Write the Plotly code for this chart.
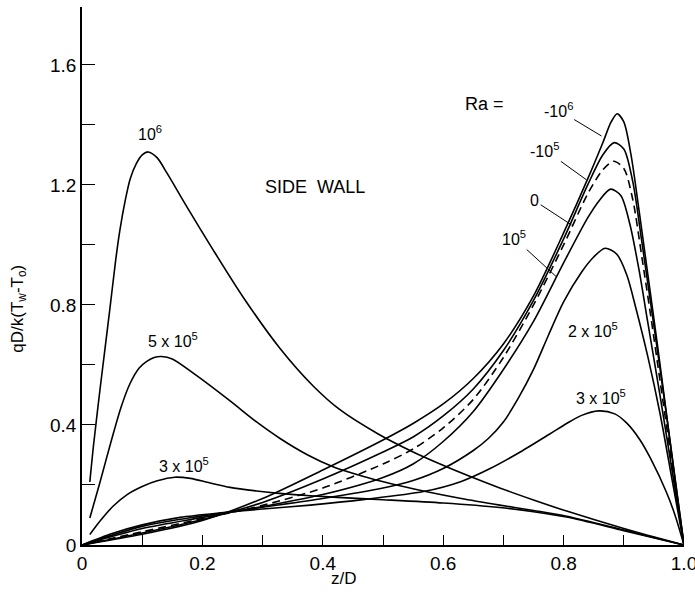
import plotly.graph_objects as go

# ---- data (z/D, qD/k(Tw-To)) ----
z_ra1e6 = [0.013, 0.019, 0.03, 0.0465, 0.056, 0.063, 0.072, 0.08, 0.09, 0.1, 0.11, 0.125, 0.141, 0.174, 0.218,
           0.268, 0.329, 0.384, 0.429, 0.492, 0.55, 0.589, 0.645, 0.694, 0.75, 0.805, 0.9, 1.0]
q_ra1e6 = [0.21, 0.33, 0.52, 0.79, 0.95, 1.05, 1.15, 1.22, 1.27, 1.30, 1.31, 1.29, 1.24, 1.128, 0.983,
           0.825, 0.655, 0.53, 0.45, 0.37, 0.31, 0.275, 0.228, 0.19, 0.15, 0.113, 0.055, 0.0]

z_ra5e5 = [0.013, 0.03, 0.049, 0.065, 0.08, 0.095, 0.107, 0.12, 0.132, 0.15, 0.19, 0.246, 0.29, 0.329, 0.375,
           0.418, 0.465, 0.512, 0.567, 0.63, 0.694, 0.75, 0.805, 0.9, 1.0]
q_ra5e5 = [0.09, 0.21, 0.35, 0.46, 0.539, 0.59, 0.611, 0.625, 0.628, 0.62, 0.565, 0.48, 0.41, 0.355, 0.30,
           0.26, 0.23, 0.205, 0.18, 0.155, 0.133, 0.115, 0.096, 0.05, 0.0]

z_ra3e5a = [0.013, 0.03, 0.052, 0.075, 0.1, 0.125, 0.154, 0.18, 0.21, 0.246, 0.29, 0.323, 0.379, 0.44, 0.5, 0.6,
            0.694, 0.75, 0.805, 0.9, 1.0]
q_ra3e5a = [0.035, 0.08, 0.13, 0.168, 0.195, 0.214, 0.226, 0.222, 0.208, 0.192, 0.18, 0.173, 0.164, 0.157, 0.151,
            0.14, 0.125, 0.111, 0.093, 0.048, 0.0]

z_ra3e5b = [0.0, 0.05, 0.1, 0.163, 0.235, 0.3, 0.379, 0.47, 0.567, 0.63, 0.678, 0.728, 0.777, 0.805, 0.83, 0.858,
            0.885, 0.905, 0.927, 0.944, 0.971, 0.985, 1.0]
q_ra3e5b = [0.0, 0.038, 0.067, 0.092, 0.108, 0.12, 0.133, 0.152, 0.178, 0.212, 0.255, 0.31, 0.37, 0.405, 0.432,
            0.447, 0.437, 0.406, 0.35, 0.29, 0.175, 0.1, 0.0]

z_ra2e5 = [0.0, 0.1, 0.2, 0.3, 0.4, 0.5, 0.55, 0.6, 0.65, 0.675, 0.7, 0.725, 0.75, 0.775, 0.8, 0.83, 0.85, 0.869,
           0.888, 0.905, 0.92, 0.94, 0.96, 0.98, 1.0]
q_ra2e5 = [0.0, 0.062, 0.097, 0.126, 0.155, 0.19, 0.215, 0.255, 0.315, 0.355, 0.41, 0.49, 0.585, 0.70, 0.81, 0.91,
           0.96, 0.989, 0.97, 0.9, 0.79, 0.627, 0.44, 0.22, 0.0]

z_ra1e5 = [0.0, 0.1, 0.2, 0.3, 0.4, 0.5, 0.55, 0.6, 0.65, 0.7, 0.75, 0.8, 0.84, 0.86, 0.878, 0.895, 0.91, 0.925,
           0.94, 0.96, 0.98, 1.0]
q_ra1e5 = [0.0, 0.055, 0.092, 0.128, 0.168, 0.225, 0.27, 0.345, 0.445, 0.585, 0.745, 0.94, 1.09, 1.15, 1.186,
           1.165, 1.07, 0.92, 0.74, 0.5, 0.25, 0.0]

z_ra0 = [0.0, 0.1, 0.2, 0.3, 0.4, 0.5, 0.55, 0.6, 0.65, 0.7, 0.75, 0.8, 0.84, 0.865, 0.883, 0.9, 0.915, 0.93,
         0.945, 0.96, 0.98, 1.0]
q_ra0 = [0.0, 0.044, 0.088, 0.132, 0.19, 0.27, 0.32, 0.39, 0.485, 0.625, 0.8, 1.0, 1.17, 1.25, 1.279, 1.255,
         1.15, 0.96, 0.76, 0.55, 0.27, 0.0]

z_ram1e5 = [0.0, 0.1, 0.2, 0.3, 0.4, 0.5, 0.55, 0.6, 0.65, 0.7, 0.75, 0.8, 0.84, 0.865, 0.884, 0.9, 0.915, 0.93,
            0.945, 0.96, 0.98, 1.0]
q_ram1e5 = [0.0, 0.04, 0.085, 0.142, 0.22, 0.31, 0.36, 0.43, 0.52, 0.648, 0.815, 1.02, 1.2, 1.3, 1.341, 1.32,
            1.21, 1.01, 0.8, 0.59, 0.3, 0.0]

z_ram1e6 = [0.0, 0.1, 0.2, 0.3, 0.4, 0.5, 0.55, 0.6, 0.65, 0.7, 0.75, 0.8, 0.84, 0.865, 0.879, 0.889, 0.9, 0.912,
            0.925, 0.94, 0.955, 0.97, 0.985, 1.0]
q_ram1e6 = [0.0, 0.036, 0.082, 0.155, 0.25, 0.35, 0.405, 0.47, 0.555, 0.67, 0.83, 1.04, 1.22, 1.34, 1.41, 1.437,
            1.41, 1.3, 1.12, 0.9, 0.68, 0.45, 0.22, 0.0]

x_tickvals = [0, 0.2, 0.4, 0.6, 0.8, 1.0]
x_ticktext = ["0", "0.2", "0.4", "0.6", "0.8", "1.0"]
y_tickvals = [0, 0.4, 0.8, 1.2, 1.6]
y_ticktext = ["0", "0.4", "0.8", "1.2", "1.6"]

series = [
    ("10^6", z_ra1e6, q_ra1e6, "solid"),
    ("5x10^5", z_ra5e5, q_ra5e5, "solid"),
    ("3x10^5 (a)", z_ra3e5a, q_ra3e5a, "solid"),
    ("3x10^5 (b)", z_ra3e5b, q_ra3e5b, "solid"),
    ("2x10^5", z_ra2e5, q_ra2e5, "solid"),
    ("10^5", z_ra1e5, q_ra1e5, "solid"),
    ("0", z_ra0, q_ra0, "8px,5px"),
    ("-10^5", z_ram1e5, q_ram1e5, "solid"),
    ("-10^6", z_ram1e6, q_ram1e6, "solid"),
]

FONT = "Liberation Sans, Arial, sans-serif"

fig = go.Figure()
for name, zs, qs, dash in series:
    fig.add_trace(go.Scatter(
        x=zs, y=qs, mode="lines", name=name,
        line=dict(color="black", width=1.6, dash=dash, shape="spline", smoothing=0.8),
        hoverinfo="skip", showlegend=False,
    ))

# plain labels: (z, q, text, size)
plain = [
    (0.113, 1.373, "10<sup>6</sup>", 16),
    (0.151, 0.683, "5 x 10<sup>5</sup>", 16),
    (0.169, 0.267, "3 x 10<sup>5</sup>", 16),
    (0.387, 1.193, "SIDE&nbsp;&nbsp;WALL", 18),
    (0.668, 1.47, "Ra =", 18),
    (0.849, 0.717, "2 x 10<sup>5</sup>", 16),
    (0.862, 0.493, "3 x 10<sup>5</sup>", 16),
]
for x, y, t, s in plain:
    fig.add_annotation(x=x, y=y, xref="x", yref="y", text=t, showarrow=False,
                       font=dict(family=FONT, size=s, color="black"))

# labels with leader lines: (target z, target q, text z, text q, text)
leaders = [
    (0.863, 1.363, 0.791, 1.45, "-10<sup>6</sup>"),
    (0.838, 1.217, 0.769, 1.317, "-10<sup>5</sup>"),
    (0.813, 1.067, 0.752, 1.147, "0"),
    (0.788, 0.894, 0.718, 1.023, "10<sup>5</sup>"),
]
for x, y, ax, ay, t in leaders:
    fig.add_annotation(x=x, y=y, xref="x", yref="y", ax=ax, ay=ay, axref="x", ayref="y",
                       text=t, showarrow=True, arrowhead=0, arrowwidth=1, arrowcolor="black",
                       font=dict(family=FONT, size=16, color="black"))

# axis titles (placed as in the reference, off-centre)
fig.add_annotation(x=0.435, y=-0.062, xref="x", yref="paper", text="z/D", showarrow=False,
                   font=dict(family=FONT, size=17, color="black"), yanchor="middle")
fig.add_annotation(x=-0.105, y=0.787, xref="paper", yref="y", text="qD/k(T<sub>w</sub>-T<sub>o</sub>)",
                   textangle=-90, showarrow=False, font=dict(family=FONT, size=17, color="black"),
                   xanchor="center", yanchor="middle")

fig.update_layout(
    width=695, height=594,
    margin=dict(l=82, r=11, t=7, b=49, autoexpand=False),
    paper_bgcolor="white", plot_bgcolor="white",
    font=dict(family=FONT, color="black"),
)
fig.update_xaxes(
    range=[0, 1.0], showgrid=False, zeroline=False, automargin=False,
    showline=True, linecolor="black", linewidth=1.5,
    tickvals=x_tickvals, ticktext=x_ticktext, ticks="inside", ticklen=10, tickwidth=1.2,
    tickcolor="black", tickfont=dict(family=FONT, size=19), ticklabeloverflow="allow",
    minor=dict(dtick=0.1, ticks="inside", ticklen=10, tickwidth=1.2, tickcolor="black", showgrid=False),
)
fig.update_yaxes(
    range=[0, 1.793], showgrid=False, zeroline=False, automargin=False,
    showline=True, linecolor="black", linewidth=1.5,
    tickvals=y_tickvals, ticktext=y_ticktext, ticks="inside", ticklen=13, tickwidth=1.2,
    tickcolor="black", tickfont=dict(family=FONT, size=19), ticklabeloverflow="allow",
    minor=dict(dtick=0.2, ticks="inside", ticklen=13, tickwidth=1.2, tickcolor="black", showgrid=False),
)

fig.write_html("out.html", config={"displayModeBar": False},
               post_script="document.body.style.margin='0';")
